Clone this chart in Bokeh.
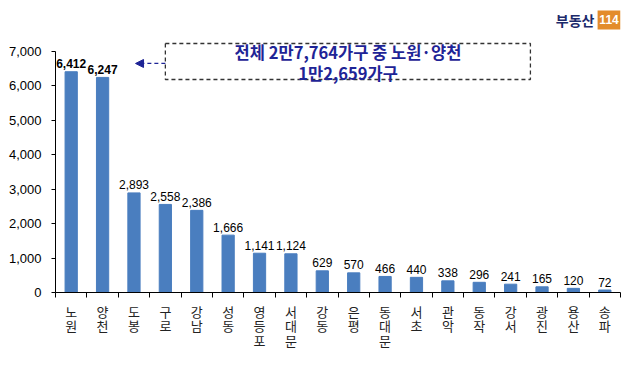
from bokeh.plotting import figure
from bokeh.models import (ColumnDataSource, FixedTicker, NumeralTickFormatter,
                          BoxAnnotation, Label, Arrow, NormalHead)
from bokeh.embed import file_html
from bokeh.resources import INLINE
from bokeh.core.properties import value

districts = ["노원", "양천", "도봉", "구로", "강남", "성동", "영등포", "서대문", "강동",
             "은평", "동대문", "서초", "관악", "동작", "강서", "광진", "용산", "송파"]
counts = [6412, 6247, 2893, 2558, 2386, 1666, 1141, 1124, 629,
          570, 466, 440, 338, 296, 241, 165, 120, 72]
y_ticks = [0, 1000, 2000, 3000, 4000, 5000, 6000, 7000]
note_line1 = "전체 2만7,764가구 중 노원·양천"
note_line2 = "1만2,659가구"

n = len(districts)
xs = [i + 0.5 for i in range(n)]
labels = [f"{c:,}" for c in counts]
src = ColumnDataSource(dict(x=xs, top=counts, label=labels))
src_bold = ColumnDataSource(dict(x=xs[:2], top=counts[:2], label=labels[:2]))
src_norm = ColumnDataSource(dict(x=xs[2:], top=counts[2:], label=labels[2:]))

p = figure(width=640, height=365, output_backend="svg", toolbar_location=None,
           x_range=(0, n), y_range=(0, 8481),
           min_border_left=55, min_border_right=20, min_border_top=0,
           min_border_bottom=73)
p.outline_line_color = None
p.xgrid.grid_line_color = None
p.ygrid.grid_line_color = None
p.background_fill_color = "white"
p.border_fill_color = "white"

p.vbar(x="x", top="top", width=0.39, source=src, color="#4a7ebf")

for s, style in ((src_bold, "bold"), (src_norm, "normal")):
    p.text(x="x", y="top", text="label", source=s, text_align="center",
           text_baseline="alphabetic", y_offset=-8,
           text_font=value("Liberation Sans"), text_font_size="12px",
           text_font_style=style, text_color="black")

# x axis
xa = p.xaxis[0]
xa.ticker = FixedTicker(ticks=xs, minor_ticks=list(range(n + 1)))
xa.major_label_overrides = {x: "\n".join(list(d)) for x, d in zip(xs, districts)}
xa.major_tick_line_color = None
xa.minor_tick_in = 0
xa.minor_tick_out = 5
xa.minor_tick_line_color = "black"
xa.axis_line_color = "black"
xa.major_label_text_font = "Noto Sans CJK KR"
xa.major_label_text_font_size = "13px"
xa.major_label_text_line_height = 0.78
xa.major_label_text_color = "#222222"
xa.major_label_standoff = 3

# y axis
ya = p.yaxis[0]
ya.ticker = FixedTicker(ticks=y_ticks)
ya.formatter = NumeralTickFormatter(format="0,0")
ya.bounds = (0, 7000)
ya.minor_tick_line_color = None
ya.major_tick_in = 0
ya.major_tick_out = 4
ya.major_label_standoff = 10
ya.major_label_text_font = "Liberation Sans"
ya.major_label_text_font_size = "13px"
ya.major_label_text_color = "black"
ya.axis_line_color = "black"

# annotation box
p.add_layout(BoxAnnotation(left=3.50, right=15.13, bottom=6187, top=7232,
                           fill_color="white", fill_alpha=1.0,
                           line_color="#333333", line_alpha=1.0, line_width=1.3,
                           line_dash="4 3"))
p.add_layout(Label(x=9.32, y=6990, text=note_line1, text_align="center",
                   text_baseline="middle", text_font="Noto Sans CJK KR",
                   text_font_style="bold", text_font_size="16.5px",
                   text_color="#1e2496"))
p.add_layout(Label(x=9.32, y=6365, text=note_line2, text_align="center",
                   text_baseline="middle", text_font="Noto Sans CJK KR",
                   text_font_style="bold", text_font_size="16.5px",
                   text_color="#1e2496"))
p.add_layout(Arrow(x_start=3.50, y_start=6652, x_end=2.55, y_end=6652,
                   line_color="#1e2496", line_width=1.3, line_dash="4 3",
                   end=NormalHead(size=8, fill_color="#1e2496",
                                  line_color="#1e2496")))

# logo
p.add_layout(BoxAnnotation(left=17.27, right=18.0, bottom=7639, top=8191,
                           fill_color="#e38c2b", fill_alpha=1.0, line_color=None))
p.add_layout(Label(x=17.635, y=7915, text="114", text_align="center",
                   text_baseline="middle", text_font="Liberation Sans",
                   text_font_style="bold", text_font_size="12px",
                   text_color="white"))
p.add_layout(Label(x=17.17, y=7915, text="부동산", text_align="right",
                   text_baseline="middle", text_font="Noto Sans CJK KR",
                   text_font_style="bold", text_font_size="14px",
                   text_color="#1c2a6b"))

open("out.html", "w").write(file_html(p, INLINE))
